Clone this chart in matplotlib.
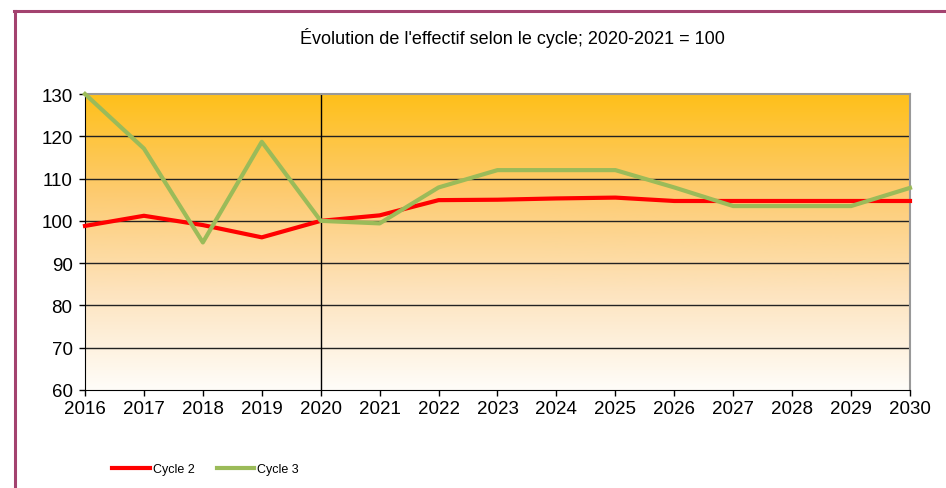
import numpy as np
import matplotlib.pyplot as plt
from matplotlib.lines import Line2D
from matplotlib.colors import LinearSegmentedColormap

plt.rcParams['font.family'] = ['Liberation Sans', 'DejaVu Sans']

# data
years = list(range(2016, 2031))
cycle2 = [98.8, 101.2, 99.0, 96.1, 100.0, 101.3, 104.9, 105.0, 105.3, 105.5,
          104.7, 104.7, 104.7, 104.7, 104.7]
cycle3 = [130.0, 117.1, 94.9, 118.7, 100.0, 99.4, 107.9, 112.0, 112.0, 112.0,
          107.9, 103.5, 103.5, 103.5, 107.8]
yticks = [60, 70, 80, 90, 100, 110, 120, 130]

fig = plt.figure(figsize=(9.46, 4.89), dpi=100)
ax = fig.add_axes([85 / 946, 1 - 391 / 489, 825 / 946, 296 / 489])

# gradient background, orange on top fading to near white
cmap = LinearSegmentedColormap.from_list('bg', ['#FFFDF9', '#FDE3BD', '#FDCB70', '#FFC01A'])
grad = np.linspace(0, 1, 256).reshape(-1, 1)
ax.imshow(grad, cmap=cmap, aspect='auto', origin='lower',
          extent=[2016, 2030, 60, 130], zorder=0)

for y in yticks[1:-1]:
    ax.axhline(y, color='#222222', lw=1.0, zorder=1)
ax.axvline(2020, color='black', lw=1.0, zorder=1)

ax.plot(years, cycle2, color='#FF0000', lw=3, label='Cycle 2', zorder=3, clip_on=False)
ax.plot(years, cycle3, color='#9BBB59', lw=3, label='Cycle 3', zorder=4, clip_on=False)

ax.set_xlim(2016, 2030)
ax.set_ylim(60, 130)
ax.set_xticks(years)
ax.set_yticks(yticks)
ax.tick_params(axis='both', labelsize=13.5, direction='out', length=4, width=1, color='black')
ax.tick_params(axis='x', pad=3)
ax.tick_params(axis='y', pad=5)
for s in ['left', 'bottom']:
    ax.spines[s].set_color('black')
for s in ['top', 'right']:
    ax.spines[s].set_color('#999999')
    ax.spines[s].set_linewidth(1.5)

fig.text(512 / 946, 1 - 38 / 489, "Évolution de l'effectif selon le cycle; 2020-2021 = 100",
         ha='center', va='center', fontsize=13)

fig.legend(loc='center left', bbox_to_anchor=(101 / 946, 1 - 470 / 489), ncol=2,
           frameon=False, fontsize=9, handlelength=3.0, handletextpad=0.25,
           columnspacing=1.75)

# purple frame (top and left)
fig.add_artist(Line2D([15 / 946, 15 / 946], [0, 1 - 12 / 489], color='#A3426F', lw=2.2))
fig.add_artist(Line2D([14 / 946, 1], [1 - 12 / 489, 1 - 12 / 489], color='#A3426F', lw=2.2))

fig.savefig('out.png', dpi=100)
